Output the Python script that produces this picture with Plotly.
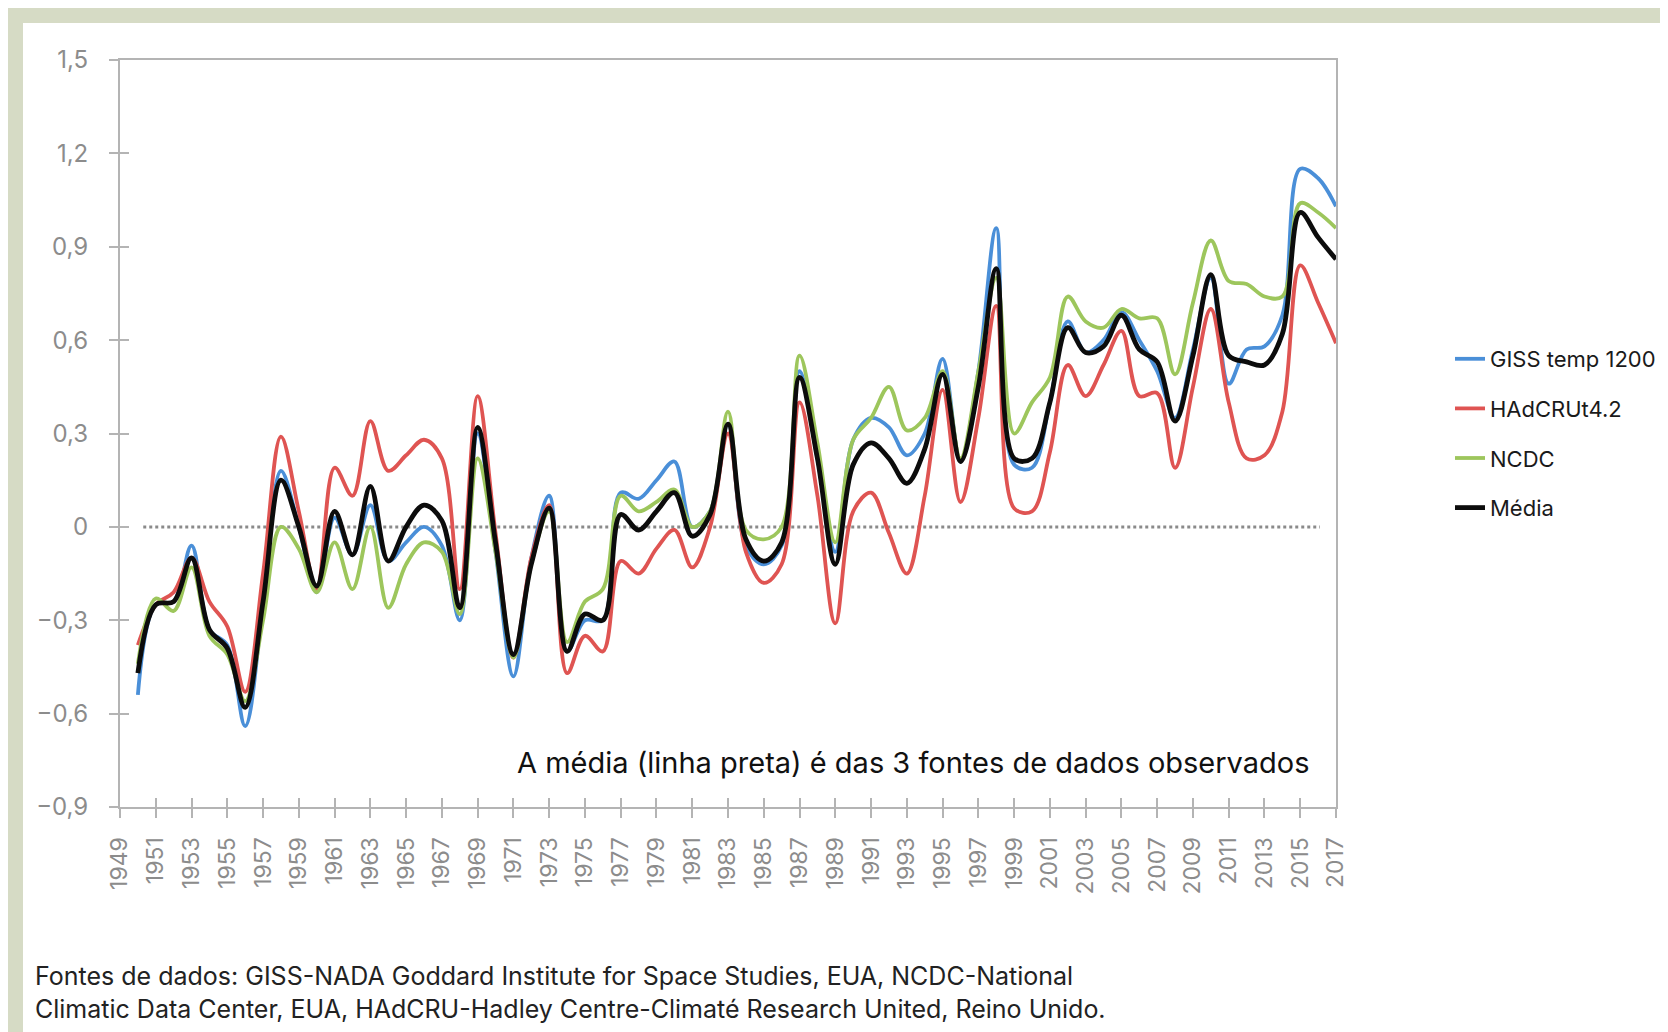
import plotly.graph_objects as go

years = list(range(1950, 2018))

giss = [-0.54, -0.25, -0.24, -0.06, -0.33, -0.38, -0.64, -0.25, 0.18, 0.00,
        -0.21, 0.03, -0.09, 0.07, -0.11, -0.05, 0.00, -0.06, -0.30, 0.30,
        -0.08, -0.48, -0.10, 0.10, -0.40, -0.30, -0.30, 0.11, 0.09, 0.15,
        0.21, 0.00, 0.05, 0.33, -0.06, -0.12, -0.06, 0.50, 0.22, -0.08,
        0.28, 0.35, 0.32, 0.23, 0.30, 0.54, 0.21, 0.50, 0.96, 0.20,
        0.19, 0.40, 0.66, 0.56, 0.60, 0.69, 0.60, 0.50, 0.35, 0.57,
        0.80, 0.46, 0.57, 0.58, 0.68, 1.15, 1.12, 1.03]

hadcrut = [-0.38, -0.25, -0.21, -0.10, -0.24, -0.32, -0.53, -0.15, 0.29, 0.05,
           -0.20, 0.19, 0.10, 0.34, 0.18, 0.23, 0.28, 0.22, -0.20, 0.42,
           -0.02, -0.42, -0.10, 0.07, -0.47, -0.35, -0.40, -0.11, -0.15, -0.07,
           -0.01, -0.13, 0.00, 0.30, -0.08, -0.18, -0.12, 0.40, 0.10, -0.31,
           0.05, 0.11, -0.02, -0.15, 0.10, 0.44, 0.08, 0.35, 0.71, 0.06,
           0.05, 0.24, 0.52, 0.42, 0.52, 0.63, 0.42, 0.43, 0.19, 0.45,
           0.70, 0.40, 0.22, 0.23, 0.37, 0.84, 0.72, 0.59]

ncdc = [-0.44, -0.23, -0.27, -0.13, -0.35, -0.41, -0.56, -0.30, 0.00, -0.07,
        -0.21, -0.05, -0.20, 0.00, -0.26, -0.12, -0.05, -0.08, -0.28, 0.22,
        -0.08, -0.42, -0.12, 0.05, -0.37, -0.24, -0.20, 0.10, 0.05, 0.08,
        0.12, 0.00, 0.05, 0.37, -0.01, -0.04, 0.00, 0.55, 0.27, -0.05,
        0.28, 0.35, 0.45, 0.31, 0.35, 0.50, 0.22, 0.50, 0.80, 0.30,
        0.40, 0.48, 0.74, 0.66, 0.64, 0.70, 0.67, 0.67, 0.49, 0.72,
        0.92, 0.79, 0.78, 0.74, 0.74, 1.04, 1.01, 0.96]

media = [-0.47, -0.25, -0.24, -0.10, -0.33, -0.39, -0.58, -0.24, 0.15, 0.00,
         -0.19, 0.05, -0.09, 0.13, -0.11, 0.00, 0.07, 0.02, -0.26, 0.32,
         -0.05, -0.41, -0.12, 0.06, -0.40, -0.28, -0.30, 0.04, -0.01, 0.05,
         0.11, -0.03, 0.04, 0.33, -0.04, -0.11, -0.05, 0.48, 0.22, -0.12,
         0.20, 0.27, 0.22, 0.14, 0.25, 0.49, 0.21, 0.45, 0.83, 0.22,
         0.22, 0.40, 0.64, 0.56, 0.58, 0.68, 0.57, 0.53, 0.34, 0.55,
         0.81, 0.55, 0.53, 0.52, 0.62, 1.01, 0.93, 0.86]

series_names = ["GISS temp 1200", "HAdCRUt4.2", "NCDC", "Média"]
series_colors = ["#4a8fd8", "#df5452", "#9dc65c", "#0c0c0c"]
series_widths = [3.8, 3.8, 3.8, 4.8]

x_tick_vals = list(range(1949, 2018, 2))
x_tick_text = [str(v) for v in x_tick_vals]
y_tick_vals = [1.5, 1.2, 0.9, 0.6, 0.3, 0.0, -0.3, -0.6, -0.9]
y_tick_text = ["1,5", "1,2", "0,9", "0,6", "0,3", "0", "\u22120,3", "\u22120,6", "\u22120,9"]

note_text = "A média (linha preta) é das 3 fontes de dados observados"
source_text = ("Fontes de dados: GISS-NADA Goddard Institute for Space Studies, EUA, NCDC-National<br>"
               "Climatic Data Center, EUA, HAdCRU-Hadley Centre-Climaté Research United, Reino Unido.")

W, H = 1668, 1032
ML, MR, MT, MB = 112, 340, 52, 233
PW, PH = W - ML - MR, H - MT - MB

def px_x(px):
    return (px - ML) / PW

def px_y(py):
    return (H - MB - py) / PH

FONT = "Inter, Lato, sans-serif"
AXIS_GRAY = "#b4b4b4"
TICK_GRAY = "#8c8c8c"

fig = go.Figure()

for name, vals, col, w in zip(series_names, [giss, hadcrut, ncdc, media],
                              series_colors, series_widths):
    fig.add_trace(go.Scatter(
        x=years, y=vals, name=name, mode="lines",
        line=dict(color=col, width=w, shape="spline", smoothing=1.0),
        legendgroup=name,
    ))

# invisible trace to activate overlay axes (inside half of crossing ticks)
fig.add_trace(go.Scatter(x=years, y=media, xaxis="x2", yaxis="y2", mode="lines",
                         line=dict(width=0), opacity=0, showlegend=False,
                         hoverinfo="skip"))

fig.add_shape(type="line", xref="x", yref="y", x0=years[0] + 0.3, x1=years[-1] - 0.9,
              y0=0, y1=0, line=dict(color="#8a8a8a", width=3, dash="dot"),
              layer="below")

# white panel over the sage border background
fig.add_shape(type="rect", xref="paper", yref="paper",
              x0=px_x(15), x1=px_x(W + 10), y0=px_y(H + 10), y1=px_y(15),
              fillcolor="white", line=dict(width=0), layer="below")

fig.add_annotation(text=note_text, xref="paper", yref="paper",
                   x=px_x(1304), y=px_y(754), xanchor="right", yanchor="middle",
                   showarrow=False, font=dict(family=FONT, size=29, color="#111111"))

fig.add_annotation(text=source_text, xref="paper", yref="paper",
                   x=px_x(25), y=px_y(1018), xanchor="left", yanchor="bottom",
                   align="left", showarrow=False,
                   font=dict(family=FONT, size=25, color="#222222"))

fig.update_layout(
    width=W, height=H,
    margin=dict(l=ML, r=MR, t=MT, b=MB, autoexpand=False),
    paper_bgcolor="#d6dbc5",
    plot_bgcolor="white",
    font=dict(family=FONT),
    showlegend=True,
    legend=dict(x=px_x(1442), y=px_y(330), xanchor="left", yanchor="top",
                bgcolor="rgba(0,0,0,0)", tracegroupgap=18,
                font=dict(family=FONT, size=22, color="#1a1a1a")),
    xaxis=dict(range=[1949, 2017], tickvals=x_tick_vals, ticktext=x_tick_text,
               tickangle=-90, ticks="outside", ticklen=9, tickwidth=2,
               tickcolor=AXIS_GRAY, showline=True, linecolor=AXIS_GRAY,
               linewidth=2, mirror=True, showgrid=False, zeroline=False,
               ticklabelstandoff=10,
               tickfont=dict(family=FONT, size=23, color=TICK_GRAY)),
    yaxis=dict(range=[-0.9, 1.5], tickvals=y_tick_vals, ticktext=y_tick_text,
               ticks="outside", ticklen=9, tickwidth=2, tickcolor=AXIS_GRAY,
               showline=True, linecolor=AXIS_GRAY, linewidth=2, mirror=True,
               showgrid=False, zeroline=False, ticklabelstandoff=16,
               tickfont=dict(family=FONT, size=24, color=TICK_GRAY)),
    xaxis2=dict(range=[1949, 2017], overlaying="x", side="bottom",
                tickvals=x_tick_vals, ticks="inside", ticklen=9, tickwidth=2,
                tickcolor=AXIS_GRAY, showticklabels=False, showline=False,
                showgrid=False, zeroline=False),
    yaxis2=dict(range=[-0.9, 1.5], overlaying="y", side="left",
                tickvals=y_tick_vals, ticks="inside", ticklen=9, tickwidth=2,
                tickcolor=AXIS_GRAY, showticklabels=False, showline=False,
                showgrid=False, zeroline=False),
)

fig.write_html("out.html")
